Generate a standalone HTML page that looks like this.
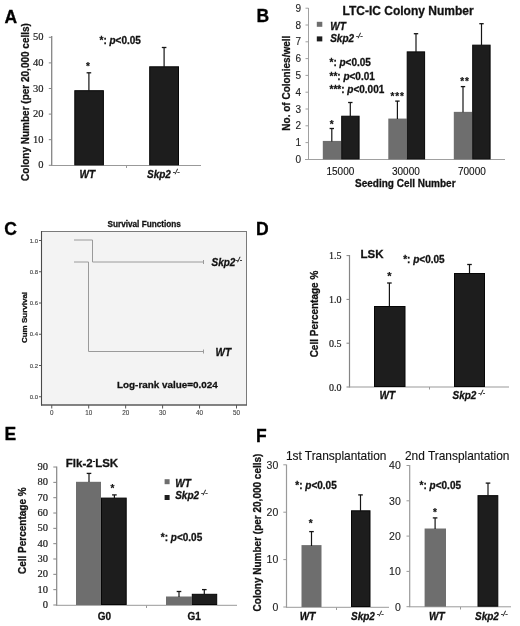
<!DOCTYPE html>
<html><head><meta charset="utf-8">
<style>
html,body{margin:0;padding:0;background:#fff;}
svg{display:block;will-change:transform;}
text{font-family:"Liberation Sans",sans-serif;paint-order:stroke;}
</style></head>
<body>
<svg width="520" height="626" viewBox="0 0 520 626">
<rect x="0" y="0" width="520" height="626" fill="#fff"/>
<text x="4.5" y="22.8" font-size="17.5" style="font-weight:bold;fill:#000;stroke:#000;stroke-width:0.3px">A</text>
<line x1="51.7" y1="36" x2="51.7" y2="166" stroke="#858585" stroke-width="1.3"/>
<line x1="51" y1="165.5" x2="201" y2="165.5" stroke="#999" stroke-width="1"/>
<line x1="48.8" y1="165.3" x2="51.5" y2="165.3" stroke="#858585" stroke-width="1"/>
<text x="43.5" y="168.3" font-size="10.5" text-anchor="end" style="font-family:'Liberation Serif',serif;fill:#1a1a1a;stroke:#1a1a1a;stroke-width:0.2px">0</text>
<line x1="48.8" y1="139.7" x2="51.5" y2="139.7" stroke="#858585" stroke-width="1"/>
<text x="43.5" y="142.7" font-size="10.5" text-anchor="end" style="font-family:'Liberation Serif',serif;fill:#1a1a1a;stroke:#1a1a1a;stroke-width:0.2px">10</text>
<line x1="48.8" y1="114.1" x2="51.5" y2="114.1" stroke="#858585" stroke-width="1"/>
<text x="43.5" y="117.1" font-size="10.5" text-anchor="end" style="font-family:'Liberation Serif',serif;fill:#1a1a1a;stroke:#1a1a1a;stroke-width:0.2px">20</text>
<line x1="48.8" y1="88.5" x2="51.5" y2="88.5" stroke="#858585" stroke-width="1"/>
<text x="43.5" y="91.5" font-size="10.5" text-anchor="end" style="font-family:'Liberation Serif',serif;fill:#1a1a1a;stroke:#1a1a1a;stroke-width:0.2px">30</text>
<line x1="48.8" y1="62.9" x2="51.5" y2="62.9" stroke="#858585" stroke-width="1"/>
<text x="43.5" y="65.9" font-size="10.5" text-anchor="end" style="font-family:'Liberation Serif',serif;fill:#1a1a1a;stroke:#1a1a1a;stroke-width:0.2px">40</text>
<line x1="48.8" y1="37.3" x2="51.5" y2="37.3" stroke="#858585" stroke-width="1"/>
<text x="43.5" y="40.3" font-size="10.5" text-anchor="end" style="font-family:'Liberation Serif',serif;fill:#1a1a1a;stroke:#1a1a1a;stroke-width:0.2px">50</text>
<line x1="126.5" y1="165.5" x2="126.5" y2="168" stroke="#999" stroke-width="1"/>
<rect x="74.8" y="90.7" width="28.6" height="74.1" fill="#1d1d1d" stroke="#060606" stroke-width="1"/>
<rect x="149.7" y="66.8" width="28.8" height="98" fill="#1d1d1d" stroke="#060606" stroke-width="1"/>
<line x1="88.9" y1="72.8" x2="88.9" y2="91" stroke="#151515" stroke-width="1.2"/>
<line x1="86.6" y1="72.8" x2="91.2" y2="72.8" stroke="#151515" stroke-width="1.3"/>
<line x1="164.1" y1="47.5" x2="164.1" y2="67" stroke="#151515" stroke-width="1.2"/>
<line x1="161.8" y1="47.5" x2="166.4" y2="47.5" stroke="#151515" stroke-width="1.3"/>
<text x="85.94" y="70.32" font-size="10" style="font-weight:bold;fill:#111;stroke:#111;stroke-width:0.2px">*</text>
<text x="99.5" y="44" font-size="10" style="font-weight:bold;fill:#111;stroke:#111;stroke-width:0.28px">*: <tspan font-size="10" style="font-weight:bold;font-style:italic;">p</tspan><tspan font-size="10" style="">&lt;0.05</tspan></text>
<text x="79.5" y="177.5" font-size="10" style="font-weight:bold;font-style:italic;fill:#111;stroke:#111;stroke-width:0.28px">WT</text>
<text x="147" y="177.5" font-size="10" style="font-weight:bold;font-style:italic;fill:#111;stroke:#111;stroke-width:0.28px">Skp2<tspan dy="-3.7" font-size="7" style="font-weight:normal;font-style:italic;"> -/-</tspan></text>
<text transform="translate(29.4,102) rotate(-90)" x="0" y="0" font-size="10" text-anchor="middle" style="font-weight:bold;fill:#111;stroke:#111;stroke-width:0.28px">Colony Number (per 20,000 cells)</text>
<text x="256.5" y="22.3" font-size="17.5" style="font-weight:bold;fill:#000;stroke:#000;stroke-width:0.3px">B</text>
<line x1="308.5" y1="8" x2="308.5" y2="159.5" stroke="#a0a0a0" stroke-width="1"/>
<line x1="305" y1="159.5" x2="505" y2="159.5" stroke="#a0a0a0" stroke-width="1"/>
<line x1="305.5" y1="142.6" x2="308.5" y2="142.6" stroke="#a0a0a0" stroke-width="1"/>
<line x1="305.5" y1="125.8" x2="308.5" y2="125.8" stroke="#a0a0a0" stroke-width="1"/>
<line x1="305.5" y1="109.0" x2="308.5" y2="109.0" stroke="#a0a0a0" stroke-width="1"/>
<line x1="305.5" y1="92.2" x2="308.5" y2="92.2" stroke="#a0a0a0" stroke-width="1"/>
<line x1="305.5" y1="75.4" x2="308.5" y2="75.4" stroke="#a0a0a0" stroke-width="1"/>
<line x1="305.5" y1="58.6" x2="308.5" y2="58.6" stroke="#a0a0a0" stroke-width="1"/>
<line x1="305.5" y1="41.8" x2="308.5" y2="41.8" stroke="#a0a0a0" stroke-width="1"/>
<line x1="305.5" y1="25.0" x2="308.5" y2="25.0" stroke="#a0a0a0" stroke-width="1"/>
<line x1="305.5" y1="8.2" x2="308.5" y2="8.2" stroke="#a0a0a0" stroke-width="1"/>
<text x="301" y="163.0" font-size="10" text-anchor="end" style="fill:#222;stroke:#222;stroke-width:0.12px">0</text>
<text x="301" y="146.2" font-size="10" text-anchor="end" style="fill:#222;stroke:#222;stroke-width:0.12px">1</text>
<text x="301" y="129.4" font-size="10" text-anchor="end" style="fill:#222;stroke:#222;stroke-width:0.12px">2</text>
<text x="301" y="112.6" font-size="10" text-anchor="end" style="fill:#222;stroke:#222;stroke-width:0.12px">3</text>
<text x="301" y="95.8" font-size="10" text-anchor="end" style="fill:#222;stroke:#222;stroke-width:0.12px">4</text>
<text x="301" y="79.0" font-size="10" text-anchor="end" style="fill:#222;stroke:#222;stroke-width:0.12px">5</text>
<text x="301" y="62.2" font-size="10" text-anchor="end" style="fill:#222;stroke:#222;stroke-width:0.12px">6</text>
<text x="301" y="45.4" font-size="10" text-anchor="end" style="fill:#222;stroke:#222;stroke-width:0.12px">7</text>
<text x="301" y="28.6" font-size="10" text-anchor="end" style="fill:#222;stroke:#222;stroke-width:0.12px">8</text>
<text x="301" y="11.8" font-size="10" text-anchor="end" style="fill:#222;stroke:#222;stroke-width:0.12px">9</text>
<rect x="322.8" y="140.92" width="18.4" height="18.48" fill="#6e6e6e"/>
<rect x="341.7" y="116.22" width="17.4" height="42.68" fill="#1d1d1d" stroke="#060606" stroke-width="1"/>
<rect x="388.3" y="118.58" width="18.4" height="40.82" fill="#6e6e6e"/>
<rect x="407.2" y="51.88" width="17.4" height="107.02" fill="#1d1d1d" stroke="#060606" stroke-width="1"/>
<rect x="453.8" y="111.86" width="18.4" height="47.54" fill="#6e6e6e"/>
<rect x="472.7" y="45.16" width="17.4" height="113.74" fill="#1d1d1d" stroke="#060606" stroke-width="1"/>
<line x1="331.8" y1="128.5" x2="331.8" y2="141.42" stroke="#151515" stroke-width="1.2"/>
<line x1="329.6" y1="128.5" x2="334.0" y2="128.5" stroke="#151515" stroke-width="1.3"/>
<line x1="350.3" y1="102.5" x2="350.3" y2="116.22" stroke="#151515" stroke-width="1.2"/>
<line x1="348.1" y1="102.5" x2="352.5" y2="102.5" stroke="#151515" stroke-width="1.3"/>
<line x1="397.4" y1="101.1" x2="397.4" y2="119.08" stroke="#151515" stroke-width="1.2"/>
<line x1="395.2" y1="101.1" x2="399.6" y2="101.1" stroke="#151515" stroke-width="1.3"/>
<line x1="416" y1="33.7" x2="416" y2="51.88" stroke="#151515" stroke-width="1.2"/>
<line x1="413.8" y1="33.7" x2="418.2" y2="33.7" stroke="#151515" stroke-width="1.3"/>
<line x1="463" y1="86.6" x2="463" y2="112.36" stroke="#151515" stroke-width="1.2"/>
<line x1="460.8" y1="86.6" x2="465.2" y2="86.6" stroke="#151515" stroke-width="1.3"/>
<line x1="481.5" y1="23.7" x2="481.5" y2="45.16" stroke="#151515" stroke-width="1.2"/>
<line x1="479.3" y1="23.7" x2="483.7" y2="23.7" stroke="#151515" stroke-width="1.3"/>
<text x="329.84" y="127.92" font-size="10" style="font-weight:bold;fill:#111;stroke:#111;stroke-width:0.2px">*</text>
<text x="390.54" y="99.92" font-size="10" style="font-weight:bold;fill:#111;stroke:#111;stroke-width:0.2px;letter-spacing:0.8px">***</text>
<text x="460.24" y="85.22" font-size="10" style="font-weight:bold;fill:#111;stroke:#111;stroke-width:0.2px;letter-spacing:0.8px">**</text>
<text x="326.5" y="174.8" font-size="10" style="fill:#111;stroke:#111;stroke-width:0.12px">15000</text>
<text x="392" y="174.8" font-size="10" style="fill:#111;stroke:#111;stroke-width:0.12px">30000</text>
<text x="458" y="174.8" font-size="10" style="fill:#111;stroke:#111;stroke-width:0.12px">70000</text>
<text x="355" y="186.5" font-size="10" style="font-weight:bold;fill:#111;stroke:#111;stroke-width:0.28px">Seeding Cell Number</text>
<text x="342.5" y="15.3" font-size="12" style="font-weight:bold;fill:#111;stroke:#111;stroke-width:0.28px">LTC-IC Colony Number</text>
<rect x="316.8" y="21.8" width="5.5" height="5" fill="#6e6e6e"/>
<text x="330.2" y="29.7" font-size="10" style="font-weight:bold;font-style:italic;fill:#111;stroke:#111;stroke-width:0.28px">WT</text>
<rect x="316.8" y="36.4" width="5.5" height="5" fill="#1d1d1d"/>
<text x="330.2" y="42" font-size="10" style="font-weight:bold;font-style:italic;fill:#111;stroke:#111;stroke-width:0.28px">Skp2<tspan dy="-3.7" font-size="7" style="font-weight:normal;font-style:italic;"> -/-</tspan></text>
<text x="329.5" y="65.6" font-size="10" style="font-weight:bold;fill:#111;stroke:#111;stroke-width:0.28px">*: <tspan font-size="10" style="font-weight:bold;font-style:italic;">p</tspan><tspan font-size="10" style="">&lt;0.05</tspan></text>
<text x="329.5" y="79.6" font-size="10" style="font-weight:bold;fill:#111;stroke:#111;stroke-width:0.28px">**: <tspan font-size="10" style="font-weight:bold;font-style:italic;">p</tspan><tspan font-size="10" style="">&lt;0.01</tspan></text>
<text x="329.5" y="93.1" font-size="10" style="font-weight:bold;fill:#111;stroke:#111;stroke-width:0.28px">***: <tspan font-size="10" style="font-weight:bold;font-style:italic;">p</tspan><tspan font-size="10" style="">&lt;0.001</tspan></text>
<text transform="translate(290,83.2) rotate(-90)" x="0" y="0" font-size="10" text-anchor="middle" style="font-weight:bold;fill:#111;stroke:#111;stroke-width:0.28px">No. of Colonies/well</text>
<text x="4.3" y="234.7" font-size="17.5" style="font-weight:bold;fill:#000;stroke:#000;stroke-width:0.3px">C</text>
<rect x="41.5" y="231.5" width="205" height="173.5" fill="#f3f3f3" stroke="#7a7a7a" stroke-width="1"/>
<line x1="41.5" y1="231" x2="41.5" y2="405.5" stroke="#4a4a4a" stroke-width="1.1"/>
<line x1="41" y1="405" x2="247" y2="405" stroke="#4a4a4a" stroke-width="1.1"/>
<line x1="39" y1="396.75" x2="41" y2="396.75" stroke="#555" stroke-width="1"/>
<text x="38" y="398.95" font-size="6" text-anchor="end" style="fill:#444;stroke:#444;stroke-width:0.12px">0.0</text>
<line x1="39" y1="365.5" x2="41" y2="365.5" stroke="#555" stroke-width="1"/>
<text x="38" y="367.7" font-size="6" text-anchor="end" style="fill:#444;stroke:#444;stroke-width:0.12px">0.2</text>
<line x1="39" y1="334.25" x2="41" y2="334.25" stroke="#555" stroke-width="1"/>
<text x="38" y="336.45" font-size="6" text-anchor="end" style="fill:#444;stroke:#444;stroke-width:0.12px">0.4</text>
<line x1="39" y1="303.0" x2="41" y2="303.0" stroke="#555" stroke-width="1"/>
<text x="38" y="305.2" font-size="6" text-anchor="end" style="fill:#444;stroke:#444;stroke-width:0.12px">0.6</text>
<line x1="39" y1="271.75" x2="41" y2="271.75" stroke="#555" stroke-width="1"/>
<text x="38" y="273.95" font-size="6" text-anchor="end" style="fill:#444;stroke:#444;stroke-width:0.12px">0.8</text>
<line x1="39" y1="240.5" x2="41" y2="240.5" stroke="#555" stroke-width="1"/>
<text x="38" y="242.7" font-size="6" text-anchor="end" style="fill:#444;stroke:#444;stroke-width:0.12px">1.0</text>
<line x1="51.75" y1="405" x2="51.75" y2="408.5" stroke="#555" stroke-width="1"/>
<text x="51.75" y="414.5" font-size="6.3" text-anchor="middle" style="fill:#444;stroke:#444;stroke-width:0.12px">0</text>
<line x1="88.7" y1="405" x2="88.7" y2="408.5" stroke="#555" stroke-width="1"/>
<text x="88.7" y="414.5" font-size="6.3" text-anchor="middle" style="fill:#444;stroke:#444;stroke-width:0.12px">10</text>
<line x1="125.65" y1="405" x2="125.65" y2="408.5" stroke="#555" stroke-width="1"/>
<text x="125.65" y="414.5" font-size="6.3" text-anchor="middle" style="fill:#444;stroke:#444;stroke-width:0.12px">20</text>
<line x1="162.6" y1="405" x2="162.6" y2="408.5" stroke="#555" stroke-width="1"/>
<text x="162.6" y="414.5" font-size="6.3" text-anchor="middle" style="fill:#444;stroke:#444;stroke-width:0.12px">30</text>
<line x1="199.55" y1="405" x2="199.55" y2="408.5" stroke="#555" stroke-width="1"/>
<text x="199.55" y="414.5" font-size="6.3" text-anchor="middle" style="fill:#444;stroke:#444;stroke-width:0.12px">40</text>
<line x1="236.5" y1="405" x2="236.5" y2="408.5" stroke="#555" stroke-width="1"/>
<text x="236.5" y="414.5" font-size="6.3" text-anchor="middle" style="fill:#444;stroke:#444;stroke-width:0.12px">50</text>
<g stroke="#9a9a9a" stroke-width="1" fill="none">
<polyline points="74,240 92.5,240 92.5,262 203.5,262"/>
<polyline points="74,262 88.5,262 88.5,351.5 203.5,351.5"/>
<line x1="203.5" y1="260" x2="203.5" y2="264"/><line x1="203.5" y1="349.5" x2="203.5" y2="353.5"/>
</g>
<text x="107.5" y="226.8" font-size="8.2" style="font-weight:bold;fill:#111;stroke:#111;stroke-width:0.28px">Survival Functions</text>
<text x="211.5" y="265.5" font-size="10" style="font-weight:bold;font-style:italic;fill:#111;stroke:#111;stroke-width:0.28px">Skp2<tspan dy="-3.7" font-size="7" style="font-weight:normal;font-style:italic;">-/-</tspan></text>
<text x="215.5" y="356.2" font-size="10" style="font-weight:bold;font-style:italic;fill:#111;stroke:#111;stroke-width:0.28px">WT</text>
<text x="117" y="388" font-size="9.9" style="font-weight:bold;fill:#111;stroke:#111;stroke-width:0.28px">Log-rank value=0.024</text>
<text transform="translate(27,317.5) rotate(-90)" x="0" y="0" font-size="8" text-anchor="middle" style="font-weight:bold;fill:#111;stroke:#111;stroke-width:0.28px">Cum Survival</text>
<text x="256" y="235.3" font-size="17.5" style="font-weight:bold;fill:#000;stroke:#000;stroke-width:0.3px">D</text>
<line x1="349.5" y1="255" x2="349.5" y2="387.5" stroke="#858585" stroke-width="1.2"/>
<line x1="349" y1="387" x2="509" y2="387" stroke="#999" stroke-width="1"/>
<line x1="346.5" y1="387.0" x2="349" y2="387.0" stroke="#858585" stroke-width="1"/>
<text x="341.5" y="390.5" font-size="10" text-anchor="end" style="font-family:'Liberation Serif',serif;fill:#1a1a1a;stroke:#1a1a1a;stroke-width:0.2px">0.0</text>
<line x1="346.5" y1="343.2" x2="349" y2="343.2" stroke="#858585" stroke-width="1"/>
<text x="341.5" y="346.7" font-size="10" text-anchor="end" style="font-family:'Liberation Serif',serif;fill:#1a1a1a;stroke:#1a1a1a;stroke-width:0.2px">0.5</text>
<line x1="346.5" y1="299.4" x2="349" y2="299.4" stroke="#858585" stroke-width="1"/>
<text x="341.5" y="302.9" font-size="10" text-anchor="end" style="font-family:'Liberation Serif',serif;fill:#1a1a1a;stroke:#1a1a1a;stroke-width:0.2px">1.0</text>
<line x1="346.5" y1="255.6" x2="349" y2="255.6" stroke="#858585" stroke-width="1"/>
<text x="341.5" y="259.1" font-size="10" text-anchor="end" style="font-family:'Liberation Serif',serif;fill:#1a1a1a;stroke:#1a1a1a;stroke-width:0.2px">1.5</text>
<line x1="429.5" y1="387" x2="429.5" y2="389.5" stroke="#999" stroke-width="1"/>
<rect x="374.5" y="306.5" width="30.5" height="80" fill="#1d1d1d" stroke="#060606" stroke-width="1"/>
<rect x="454.5" y="273.5" width="30" height="113" fill="#1d1d1d" stroke="#060606" stroke-width="1"/>
<line x1="389.4" y1="283" x2="389.4" y2="306" stroke="#151515" stroke-width="1.2"/>
<line x1="387.1" y1="283" x2="391.7" y2="283" stroke="#151515" stroke-width="1.3"/>
<line x1="469.5" y1="264.5" x2="469.5" y2="273" stroke="#151515" stroke-width="1.2"/>
<line x1="467.2" y1="264.5" x2="471.8" y2="264.5" stroke="#151515" stroke-width="1.3"/>
<text x="387.24" y="279.82" font-size="11" style="font-weight:bold;fill:#111;stroke:#111;stroke-width:0.2px">*</text>
<text x="360.5" y="257.5" font-size="11.5" style="font-weight:bold;fill:#111;stroke:#111;stroke-width:0.28px">LSK</text>
<text x="403.2" y="263.2" font-size="10" style="font-weight:bold;fill:#111;stroke:#111;stroke-width:0.28px">*: <tspan font-size="10" style="font-weight:bold;font-style:italic;">p</tspan><tspan font-size="10" style="">&lt;0.05</tspan></text>
<text x="379.5" y="398.5" font-size="10" style="font-weight:bold;font-style:italic;fill:#111;stroke:#111;stroke-width:0.28px">WT</text>
<text x="452.5" y="398.5" font-size="10" style="font-weight:bold;font-style:italic;fill:#111;stroke:#111;stroke-width:0.28px">Skp2<tspan dy="-3.7" font-size="7" style="font-weight:normal;font-style:italic;"> -/-</tspan></text>
<text transform="translate(318,314) rotate(-90)" x="0" y="0" font-size="10" text-anchor="middle" style="font-weight:bold;fill:#111;stroke:#111;stroke-width:0.28px">Cell Percentage %</text>
<text x="4.5" y="440.3" font-size="17.5" style="font-weight:bold;fill:#000;stroke:#000;stroke-width:0.3px">E</text>
<line x1="56.7" y1="466.5" x2="56.7" y2="605.5" stroke="#858585" stroke-width="1.2"/>
<line x1="56" y1="605.3" x2="237" y2="605.3" stroke="#999" stroke-width="1"/>
<line x1="53.3" y1="605.0" x2="56.5" y2="605.0" stroke="#858585" stroke-width="1"/>
<text x="48" y="608.0" font-size="10.5" text-anchor="end" style="font-family:'Liberation Serif',serif;fill:#1a1a1a;stroke:#1a1a1a;stroke-width:0.2px">0</text>
<line x1="53.3" y1="589.67" x2="56.5" y2="589.67" stroke="#858585" stroke-width="1"/>
<text x="48" y="592.67" font-size="10.5" text-anchor="end" style="font-family:'Liberation Serif',serif;fill:#1a1a1a;stroke:#1a1a1a;stroke-width:0.2px">10</text>
<line x1="53.3" y1="574.34" x2="56.5" y2="574.34" stroke="#858585" stroke-width="1"/>
<text x="48" y="577.34" font-size="10.5" text-anchor="end" style="font-family:'Liberation Serif',serif;fill:#1a1a1a;stroke:#1a1a1a;stroke-width:0.2px">20</text>
<line x1="53.3" y1="559.01" x2="56.5" y2="559.01" stroke="#858585" stroke-width="1"/>
<text x="48" y="562.01" font-size="10.5" text-anchor="end" style="font-family:'Liberation Serif',serif;fill:#1a1a1a;stroke:#1a1a1a;stroke-width:0.2px">30</text>
<line x1="53.3" y1="543.68" x2="56.5" y2="543.68" stroke="#858585" stroke-width="1"/>
<text x="48" y="546.68" font-size="10.5" text-anchor="end" style="font-family:'Liberation Serif',serif;fill:#1a1a1a;stroke:#1a1a1a;stroke-width:0.2px">40</text>
<line x1="53.3" y1="528.35" x2="56.5" y2="528.35" stroke="#858585" stroke-width="1"/>
<text x="48" y="531.35" font-size="10.5" text-anchor="end" style="font-family:'Liberation Serif',serif;fill:#1a1a1a;stroke:#1a1a1a;stroke-width:0.2px">50</text>
<line x1="53.3" y1="513.02" x2="56.5" y2="513.02" stroke="#858585" stroke-width="1"/>
<text x="48" y="516.02" font-size="10.5" text-anchor="end" style="font-family:'Liberation Serif',serif;fill:#1a1a1a;stroke:#1a1a1a;stroke-width:0.2px">60</text>
<line x1="53.3" y1="497.69" x2="56.5" y2="497.69" stroke="#858585" stroke-width="1"/>
<text x="48" y="500.69" font-size="10.5" text-anchor="end" style="font-family:'Liberation Serif',serif;fill:#1a1a1a;stroke:#1a1a1a;stroke-width:0.2px">70</text>
<line x1="53.3" y1="482.36" x2="56.5" y2="482.36" stroke="#858585" stroke-width="1"/>
<text x="48" y="485.36" font-size="10.5" text-anchor="end" style="font-family:'Liberation Serif',serif;fill:#1a1a1a;stroke:#1a1a1a;stroke-width:0.2px">80</text>
<line x1="53.3" y1="467.03" x2="56.5" y2="467.03" stroke="#858585" stroke-width="1"/>
<text x="48" y="470.03" font-size="10.5" text-anchor="end" style="font-family:'Liberation Serif',serif;fill:#1a1a1a;stroke:#1a1a1a;stroke-width:0.2px">90</text>
<line x1="146.5" y1="605.5" x2="146.5" y2="608" stroke="#999" stroke-width="1"/>
<rect x="76" y="481.8" width="25" height="123.2" fill="#6e6e6e"/>
<rect x="101.5" y="498.1" width="24.7" height="106.4" fill="#1d1d1d" stroke="#060606" stroke-width="1"/>
<rect x="166" y="596.5" width="25.8" height="8.5" fill="#6e6e6e"/>
<rect x="192.3" y="594.3" width="24.4" height="10.2" fill="#1d1d1d" stroke="#060606" stroke-width="1"/>
<line x1="89" y1="473.4" x2="89" y2="482" stroke="#151515" stroke-width="1.2"/>
<line x1="86.7" y1="473.4" x2="91.3" y2="473.4" stroke="#151515" stroke-width="1.3"/>
<line x1="114.4" y1="494.9" x2="114.4" y2="498" stroke="#151515" stroke-width="1.2"/>
<line x1="112.1" y1="494.9" x2="116.7" y2="494.9" stroke="#151515" stroke-width="1.3"/>
<line x1="179" y1="591.5" x2="179" y2="597" stroke="#151515" stroke-width="1.2"/>
<line x1="176.7" y1="591.5" x2="181.3" y2="591.5" stroke="#151515" stroke-width="1.3"/>
<line x1="204.3" y1="589.6" x2="204.3" y2="594" stroke="#151515" stroke-width="1.2"/>
<line x1="202.0" y1="589.6" x2="206.6" y2="589.6" stroke="#151515" stroke-width="1.3"/>
<text x="110.54" y="491.92" font-size="10" style="font-weight:bold;fill:#111;stroke:#111;stroke-width:0.2px">*</text>
<text x="65.8" y="467.3" font-size="11.5" style="font-weight:bold;fill:#111;stroke:#111;stroke-width:0.28px">Flk-2<tspan dy="-4.5" font-size="7.5" style="">-</tspan><tspan dy="4.5" font-size="11.5" style="">LSK</tspan></text>
<rect x="164.6" y="479.2" width="5" height="5" fill="#6e6e6e"/>
<text x="175.2" y="487" font-size="10" style="font-weight:bold;font-style:italic;fill:#111;stroke:#111;stroke-width:0.28px">WT</text>
<rect x="164.6" y="495" width="5" height="5" fill="#1d1d1d"/>
<text x="175.2" y="498.8" font-size="10" style="font-weight:bold;font-style:italic;fill:#111;stroke:#111;stroke-width:0.28px">Skp2<tspan dy="-3.7" font-size="7" style="font-weight:normal;font-style:italic;"> -/-</tspan></text>
<text x="160.8" y="541.3" font-size="10" style="font-weight:bold;fill:#111;stroke:#111;stroke-width:0.28px">*: <tspan font-size="10" style="font-weight:bold;font-style:italic;">p</tspan><tspan font-size="10" style="">&lt;0.05</tspan></text>
<text x="97.7" y="620.2" font-size="10" style="font-weight:bold;fill:#111;stroke:#111;stroke-width:0.28px">G0</text>
<text x="187.5" y="620.2" font-size="10" style="font-weight:bold;fill:#111;stroke:#111;stroke-width:0.28px">G1</text>
<text transform="translate(26.3,530.7) rotate(-90)" x="0" y="0" font-size="10" text-anchor="middle" style="font-weight:bold;fill:#111;stroke:#111;stroke-width:0.28px">Cell Percentage %</text>
<text x="256" y="441.5" font-size="17.5" style="font-weight:bold;fill:#000;stroke:#000;stroke-width:0.3px">F</text>
<line x1="286.5" y1="464.5" x2="286.5" y2="607.5" stroke="#9a9a9a" stroke-width="1.2"/>
<line x1="286" y1="607.3" x2="389" y2="607.3" stroke="#9a9a9a" stroke-width="1"/>
<line x1="283.3" y1="607.0" x2="286.3" y2="607.0" stroke="#9a9a9a" stroke-width="1"/>
<text x="278.3" y="610.8" font-size="10.5" text-anchor="end" style="fill:#222;stroke:#222;stroke-width:0.12px">0</text>
<line x1="283.3" y1="559.6" x2="286.3" y2="559.6" stroke="#9a9a9a" stroke-width="1"/>
<text x="278.3" y="563.4" font-size="10.5" text-anchor="end" style="fill:#222;stroke:#222;stroke-width:0.12px">10</text>
<line x1="283.3" y1="512.2" x2="286.3" y2="512.2" stroke="#9a9a9a" stroke-width="1"/>
<text x="278.3" y="516.0" font-size="10.5" text-anchor="end" style="fill:#222;stroke:#222;stroke-width:0.12px">20</text>
<line x1="283.3" y1="464.8" x2="286.3" y2="464.8" stroke="#9a9a9a" stroke-width="1"/>
<text x="278.3" y="468.6" font-size="10.5" text-anchor="end" style="fill:#222;stroke:#222;stroke-width:0.12px">30</text>
<line x1="336.5" y1="607.5" x2="336.5" y2="610" stroke="#9a9a9a" stroke-width="1"/>
<line x1="409.7" y1="465" x2="409.7" y2="607" stroke="#9a9a9a" stroke-width="1.2"/>
<line x1="409" y1="606.8" x2="511" y2="606.8" stroke="#9a9a9a" stroke-width="1"/>
<line x1="406.5" y1="606.7" x2="409.5" y2="606.7" stroke="#9a9a9a" stroke-width="1"/>
<text x="400.8" y="610.5" font-size="10.5" text-anchor="end" style="fill:#222;stroke:#222;stroke-width:0.12px">0</text>
<line x1="406.5" y1="571.4" x2="409.5" y2="571.4" stroke="#9a9a9a" stroke-width="1"/>
<text x="400.8" y="575.2" font-size="10.5" text-anchor="end" style="fill:#222;stroke:#222;stroke-width:0.12px">10</text>
<line x1="406.5" y1="536.1" x2="409.5" y2="536.1" stroke="#9a9a9a" stroke-width="1"/>
<text x="400.8" y="539.9" font-size="10.5" text-anchor="end" style="fill:#222;stroke:#222;stroke-width:0.12px">20</text>
<line x1="406.5" y1="500.8" x2="409.5" y2="500.8" stroke="#9a9a9a" stroke-width="1"/>
<text x="400.8" y="504.6" font-size="10.5" text-anchor="end" style="fill:#222;stroke:#222;stroke-width:0.12px">30</text>
<line x1="406.5" y1="465.5" x2="409.5" y2="465.5" stroke="#9a9a9a" stroke-width="1"/>
<text x="400.8" y="469.3" font-size="10.5" text-anchor="end" style="fill:#222;stroke:#222;stroke-width:0.12px">40</text>
<line x1="460.5" y1="607" x2="460.5" y2="609.5" stroke="#9a9a9a" stroke-width="1"/>
<rect x="301.5" y="545.1" width="20" height="61.9" fill="#6e6e6e"/>
<rect x="351.5" y="510.8" width="18.5" height="95.7" fill="#1d1d1d" stroke="#060606" stroke-width="1"/>
<rect x="424.6" y="528.51" width="21.4" height="78.19" fill="#6e6e6e"/>
<rect x="478.0" y="495.65" width="19.8" height="110.55" fill="#1d1d1d" stroke="#060606" stroke-width="1"/>
<line x1="311.5" y1="531.6" x2="311.5" y2="546" stroke="#151515" stroke-width="1.2"/>
<line x1="309.2" y1="531.6" x2="313.8" y2="531.6" stroke="#151515" stroke-width="1.3"/>
<line x1="360.5" y1="494.9" x2="360.5" y2="511.5" stroke="#151515" stroke-width="1.2"/>
<line x1="358.2" y1="494.9" x2="362.8" y2="494.9" stroke="#151515" stroke-width="1.3"/>
<line x1="435.1" y1="517.9" x2="435.1" y2="529" stroke="#151515" stroke-width="1.2"/>
<line x1="432.8" y1="517.9" x2="437.4" y2="517.9" stroke="#151515" stroke-width="1.3"/>
<line x1="488" y1="483.1" x2="488" y2="495.5" stroke="#151515" stroke-width="1.2"/>
<line x1="485.7" y1="483.1" x2="490.3" y2="483.1" stroke="#151515" stroke-width="1.3"/>
<text x="308.64" y="527.02" font-size="10" style="font-weight:bold;fill:#111;stroke:#111;stroke-width:0.2px">*</text>
<text x="432.94" y="515.92" font-size="10" style="font-weight:bold;fill:#111;stroke:#111;stroke-width:0.2px">*</text>
<text x="285.9" y="459.8" font-size="11.9" style="fill:#111;stroke:#111;stroke-width:0.12px">1st Transplantation</text>
<text x="405" y="460" font-size="11.9" style="fill:#111;stroke:#111;stroke-width:0.12px">2nd Transplantation</text>
<text x="295.3" y="489.1" font-size="10" style="font-weight:bold;fill:#111;stroke:#111;stroke-width:0.28px">*: <tspan font-size="10" style="font-weight:bold;font-style:italic;">p</tspan><tspan font-size="10" style="">&lt;0.05</tspan></text>
<text x="419.6" y="489.3" font-size="10" style="font-weight:bold;fill:#111;stroke:#111;stroke-width:0.28px">*: <tspan font-size="10" style="font-weight:bold;font-style:italic;">p</tspan><tspan font-size="10" style="">&lt;0.05</tspan></text>
<text x="299.8" y="619.8" font-size="10" style="font-weight:bold;font-style:italic;fill:#111;stroke:#111;stroke-width:0.28px">WT</text>
<text x="351" y="619.8" font-size="10" style="font-weight:bold;font-style:italic;fill:#111;stroke:#111;stroke-width:0.28px">Skp2<tspan dy="-3.7" font-size="7" style="font-weight:normal;font-style:italic;"> -/-</tspan></text>
<text x="429" y="619.8" font-size="10" style="font-weight:bold;font-style:italic;fill:#111;stroke:#111;stroke-width:0.28px">WT</text>
<text x="475" y="619.8" font-size="10" style="font-weight:bold;font-style:italic;fill:#111;stroke:#111;stroke-width:0.28px">Skp2<tspan dy="-3.7" font-size="7" style="font-weight:normal;font-style:italic;"> -/-</tspan></text>
<text transform="translate(260.5,532.5) rotate(-90)" x="0" y="0" font-size="10" text-anchor="middle" style="font-weight:bold;fill:#111;stroke:#111;stroke-width:0.28px">Colony Number (per 20,000 cells)</text>
</svg>
</body></html>
